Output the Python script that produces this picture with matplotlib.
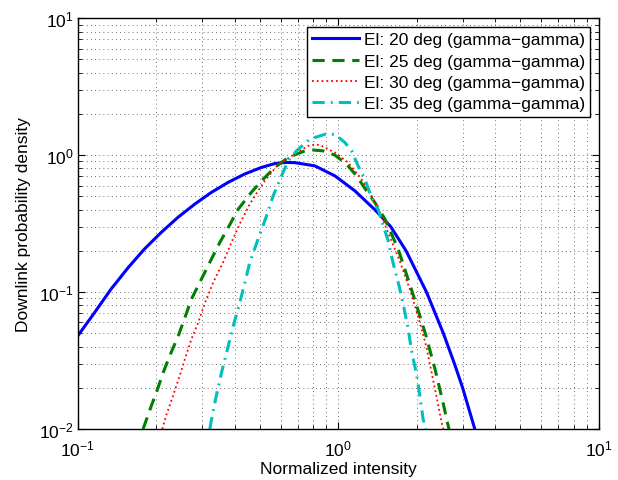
import numpy as np
import matplotlib.pyplot as plt

plt.rcParams['font.family'] = ['Liberation Sans', 'DejaVu Sans']

# downlink pdf samples (normalized intensity, density) per elevation
x20 = [0.100, 0.116, 0.134, 0.156, 0.180, 0.209, 0.242, 0.281, 0.325, 0.377,
       0.436, 0.506, 0.570, 0.630, 0.681, 0.813, 0.97, 1.157, 1.38, 1.59,
       1.82, 2.18, 2.53, 2.79, 3.0, 3.34]
y20 = [0.048, 0.071, 0.105, 0.151, 0.206, 0.273, 0.351, 0.439, 0.534, 0.632,
       0.727, 0.813, 0.868, 0.885, 0.882, 0.835, 0.706, 0.549, 0.40, 0.30,
       0.20, 0.10, 0.05, 0.03, 0.02, 0.01]

x25 = [0.178, 0.191, 0.2025, 0.214, 0.228, 0.243, 0.2575, 0.273, 0.294, 0.321,
       0.351, 0.381, 0.4125, 0.463, 0.507, 0.57, 0.642, 0.744, 0.80, 0.874,
       0.97, 1.075, 1.175, 1.283, 1.38, 1.51, 1.697, 1.88, 1.98, 2.17,
       2.35, 2.53, 2.62, 2.66]
y25 = [0.010, 0.0146, 0.0197, 0.0267, 0.0362, 0.048, 0.065, 0.089, 0.118, 0.165,
       0.231, 0.305, 0.403, 0.534, 0.649, 0.813, 0.962, 1.075, 1.09, 1.075,
       1.0, 0.86, 0.706, 0.549, 0.452, 0.341, 0.206, 0.114, 0.084, 0.048,
       0.0274, 0.0152, 0.0112, 0.010]

x30 = [0.211, 0.219, 0.232, 0.246, 0.26, 0.273, 0.290, 0.308, 0.331, 0.361,
       0.389, 0.418, 0.457, 0.492, 0.522, 0.588, 0.681, 0.766, 0.82, 0.862,
       0.97, 1.09, 1.227, 1.341, 1.443, 1.72, 1.88, 2.03, 2.18, 2.28,
       2.39, 2.49, 2.53]
y30 = [0.010, 0.0128, 0.0175, 0.0245, 0.0343, 0.0454, 0.0602, 0.084, 0.118, 0.165,
       0.231, 0.314, 0.439, 0.549, 0.649, 0.86, 1.017, 1.17, 1.20, 1.17,
       1.046, 0.885, 0.668, 0.505, 0.382, 0.169, 0.105, 0.065, 0.0395, 0.0258,
       0.0167, 0.0112, 0.010]

x35 = [0.321, 0.326, 0.34, 0.356, 0.374, 0.392, 0.415, 0.438, 0.457, 0.492,
       0.530, 0.562, 0.605, 0.642, 0.691, 0.777, 0.888, 0.97, 1.059, 1.124,
       1.191, 1.264, 1.341, 1.42, 1.553, 1.62, 1.71, 1.784, 1.85, 1.91,
       1.995, 2.055, 2.115, 2.17]
y35 = [0.010, 0.0118, 0.0175, 0.0258, 0.0373, 0.0538, 0.079, 0.118, 0.165, 0.244,
       0.36, 0.505, 0.706, 0.909, 1.075, 1.31, 1.42, 1.42, 1.238, 1.075,
       0.835, 0.668, 0.491, 0.403, 0.237, 0.165, 0.111, 0.0774, 0.055, 0.0373,
       0.0252, 0.0175, 0.0118, 0.010]

labels = ['El: 20 deg (gamma\u2212gamma)', 'El: 25 deg (gamma\u2212gamma)',
          'El: 30 deg (gamma\u2212gamma)', 'El: 35 deg (gamma\u2212gamma)']

fig = plt.figure(figsize=(6.18, 4.81), dpi=100)
ax = fig.add_axes([0.126, 0.106, 0.843, 0.854])

ax.loglog(x20, y20, '-', color=(0, 0, 1), lw=2.2, label=labels[0])
ax.loglog(x25, y25, '--', color=(0, 0.5, 0), lw=2.2, dashes=(4, 2.5), label=labels[1])
ax.loglog(x30, y30, ':', color=(1, 0, 0), lw=1.3, label=labels[2])
ax.loglog(x35, y35, '-.', color=(0, 0.75, 0.75), lw=2.2,
          dashes=(4, 2, 0.6, 2), label=labels[3])

ax.set_xlim(0.1, 10)
ax.set_ylim(0.01, 10)
ax.grid(True, which='both', linestyle=(0, (1, 4)), color='0.25', lw=0.6)
ax.tick_params(which='both', direction='in', top=True, right=True, labelsize=12.5)
ax.tick_params(axis='x', which='major', pad=7)
ax.tick_params(axis='y', which='major', pad=3)
ax.tick_params(which='major', length=5)
ax.tick_params(which='minor', length=3)
for s in ax.spines.values():
    s.set_linewidth(1.0)

ax.set_xlabel('Normalized intensity', fontsize=12.5, labelpad=2)
ax.set_ylabel('Downlink probability density', fontsize=12.5, labelpad=6)

leg = ax.legend(loc='upper right', fontsize=12.5, fancybox=False, framealpha=1,
                edgecolor='black', handlelength=2.7, handletextpad=0.3,
                labelspacing=0.36, borderpad=0.3, borderaxespad=0.5)
leg.get_frame().set_linewidth(1.0)

fig.savefig('out.png', dpi=100)
